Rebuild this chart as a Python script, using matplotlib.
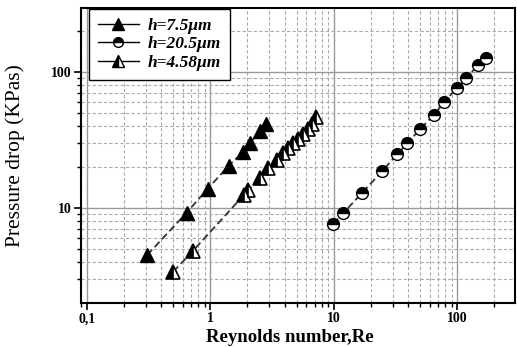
import numpy as np
import matplotlib
matplotlib.use("Agg")
import matplotlib.pyplot as plt
from matplotlib.lines import Line2D
from matplotlib.ticker import LogLocator, FixedLocator, FixedFormatter, NullFormatter

# ── Data ──────────────────────────────────────────────────────────────────────
re_75 = [0.309, 0.644, 0.953, 1.41, 1.83, 2.10, 2.52, 2.82]
dp_75 = [4.52, 9.24, 13.8, 20.4, 25.6, 29.9, 36.9, 41.3]

re_205 = [9.89, 11.9, 16.8, 24.8, 32.6, 39.5, 49.7, 64.9, 78.7, 99.1, 118.6, 147, 170]
dp_205 = [7.63, 9.14, 12.8, 18.7, 24.8, 29.8, 37.8, 48.1, 60.2, 75.6, 89.5, 112, 125]

re_458 = [0.502, 0.727, 1.88, 2.03, 2.52, 2.95, 3.44, 3.90, 4.28, 4.69,
          5.15, 5.65, 6.21, 6.68, 7.12]
dp_458 = [3.41, 4.86, 12.5, 13.5, 16.6, 19.5, 22.5, 25.2, 27.4, 29.8,
          32.1, 34.7, 37.8, 41.3, 46.8]

labels = ["h=7.5\u03bcm", "h=20.5\u03bcm", "h=4.58\u03bcm"]
x_ticks = [0.1, 1, 10, 100]
x_ticklabels = ["0,1", "1", "10", "100"]
y_ticks = [10, 100]
y_ticklabels = ["10", "100"]

SERIF = "Liberation Serif"
LINE_COL = "#333333"

fig = plt.figure(figsize=(5.17, 3.47), dpi=100)
ax = fig.add_axes([0.1567, 0.1277, 0.8394, 0.8493])
ax.set_xscale("log")
ax.set_yscale("log")
ax.set_xlim(0.09, 293)
ax.set_ylim(2.02, 293)

# ── Grid ──────────────────────────────────────────────────────────────────────
ax.xaxis.set_minor_locator(LogLocator(base=10, subs=np.arange(2, 10)))
ax.yaxis.set_minor_locator(LogLocator(base=10, subs=np.arange(2, 10)))
ax.grid(True, which="major", color="#999999", linestyle="-", linewidth=1.0, zorder=0)
ax.grid(True, which="minor", color="#aaaaaa", linestyle=(0, (3, 2)), linewidth=0.8, zorder=0)
ax.set_axisbelow(True)

# ── Series ────────────────────────────────────────────────────────────────────
dash = (0, (4, 2))
ax.plot(re_75, dp_75, linestyle=dash, color=LINE_COL, linewidth=1.3, zorder=2)
ax.plot(re_75, dp_75, linestyle="none", marker="^", markersize=10,
        markerfacecolor="black", markeredgecolor="black", zorder=3)

ax.plot(re_205, dp_205, linestyle=dash, color=LINE_COL, linewidth=1.3, zorder=2)
ax.plot(re_205, dp_205, linestyle="none", marker="o", markersize=8.5,
        fillstyle="top", markerfacecolor="black", markerfacecoloralt="white",
        markeredgecolor="black", markeredgewidth=1.0, zorder=3)

ax.plot(re_458, dp_458, linestyle=dash, color=LINE_COL, linewidth=1.3, zorder=2)
ax.plot(re_458, dp_458, linestyle="none", marker="^", markersize=10,
        fillstyle="left", markerfacecolor="black", markerfacecoloralt="white",
        markeredgecolor="black", markeredgewidth=1.2, zorder=3)

# ── Ticks ─────────────────────────────────────────────────────────────────────
ax.xaxis.set_major_locator(FixedLocator(x_ticks))
ax.xaxis.set_major_formatter(FixedFormatter(x_ticklabels))
ax.yaxis.set_major_locator(FixedLocator(y_ticks))
ax.yaxis.set_major_formatter(FixedFormatter(y_ticklabels))
ax.xaxis.set_minor_formatter(NullFormatter())
ax.yaxis.set_minor_formatter(NullFormatter())
ax.tick_params(which="major", direction="out", length=5, width=1.2, pad=2)
ax.tick_params(which="minor", direction="out", length=3, width=1.0)
for lab in ax.get_xticklabels() + ax.get_yticklabels():
    lab.set_fontfamily(SERIF)
    lab.set_fontweight("bold")
    lab.set_fontsize(10)

for sp in ax.spines.values():
    sp.set_linewidth(1.5)
    sp.set_color("black")

ax.set_xlabel("Reynolds number,Re", fontfamily=SERIF, fontweight="bold", fontsize=13.5)
ax.set_ylabel("Pressure drop (KPas)", fontfamily=SERIF, fontsize=15.5)
ax.xaxis.set_label_coords(0.48, -0.088)
ax.yaxis.set_label_coords(-0.13, 0.5)

# ── Legend ────────────────────────────────────────────────────────────────────
handles = [
    Line2D([], [], color="black", linewidth=1.0, marker="^", markersize=8,
           markerfacecolor="black", markeredgecolor="black"),
    Line2D([], [], color="black", linewidth=1.0, marker="o", markersize=7,
           fillstyle="top", markerfacecolor="black", markerfacecoloralt="white",
           markeredgecolor="black"),
    Line2D([], [], color="black", linewidth=1.0, marker="^", markersize=8,
           fillstyle="left", markerfacecolor="black", markerfacecoloralt="white",
           markeredgecolor="black"),
]
leg = ax.legend(handles, labels, loc="upper left", bbox_to_anchor=(0.018, 0.997),
                fancybox=False, framealpha=1, edgecolor="black", handlelength=2.4,
                handletextpad=0.5, borderaxespad=0.0, labelspacing=0.15, borderpad=0.5,
                prop={"family": SERIF, "weight": "bold", "style": "italic", "size": 12.5})
leg.get_frame().set_linewidth(1.0)

fig.savefig("out.png", dpi=100)
